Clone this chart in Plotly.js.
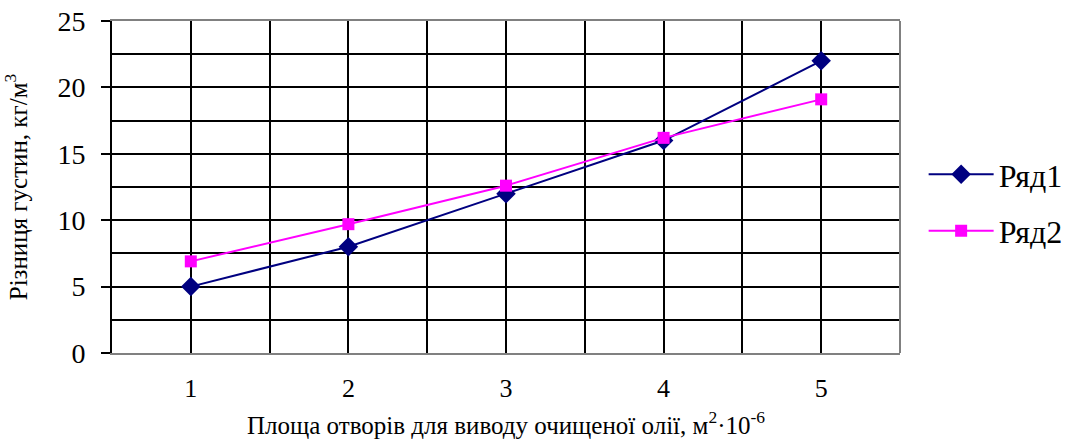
<!DOCTYPE html>
<html>
<head>
<meta charset="utf-8">
<script src="https://cdn.plot.ly/plotly-3.0.1.min.js"></script>
<style>html,body{margin:0;padding:0;background:#fff;}#chart{width:1080px;height:443px;}</style>
</head>
<body>
<div id="chart"></div>
<script>
const categories = [1, 2, 3, 4, 5];
const series1Name = "Ряд1";
const series1 = [5, 8, 12, 16, 22];
const series2Name = "Ряд2";
const series2 = [6.9, 9.7, 12.6, 16.2, 19.1];
const yTickVals = [0, 5, 10, 15, 20, 25];
const xTitle = "Площа отворів для виводу очищеної олії, м<sup>2</sup>·10<sup>-6</sup>";
const yTitle = "Різниця густин, кг/м<sup>3</sup>";

const font = "Liberation Serif";

const traces = [
  {x: categories, y: series1, name: series1Name, mode: "lines+markers", type: "scatter",
   legendgroup: "a",
   line: {color: "#000080", width: 2},
   marker: {symbol: "diamond", size: 15, color: "#000080"}},
  {x: categories, y: series2, name: series2Name, mode: "lines+markers", type: "scatter",
   legendgroup: "b",
   line: {color: "#FF00FF", width: 2},
   marker: {symbol: "square", size: 12, color: "#FF00FF"}}
];

const layout = {
  width: 1080, height: 443,
  margin: {l: 112, r: 180, t: 21, b: 90},
  paper_bgcolor: "#fff", plot_bgcolor: "#fff",
  font: {family: font, color: "#000", size: 22},
  showlegend: true,
  legend: {x: 1.03, y: 0.452, xanchor: "left", yanchor: "middle",
           font: {family: font, size: 32, color: "#000"},
           tracegroupgap: 12, traceorder: "grouped", itemwidth: 65},
  xaxis: {
    range: [0.5, 5.5], tickvals: categories, ticktext: categories.map(String),
    showgrid: true, gridcolor: "#000", gridwidth: 2,
    minor: {tickvals: [1.5, 2.5, 3.5, 4.5], showgrid: true, gridcolor: "#000", gridwidth: 2, ticks: ""},
    ticks: "", showline: true, linecolor: "#808080", linewidth: 2, mirror: true,
    zeroline: false, tickfont: {family: font, size: 26, color: "#000"},
    ticklabelstandoff: 11,
    title: {text: xTitle, font: {family: font, size: 25, color: "#000"}, standoff: 14}
  },
  yaxis: {
    range: [0, 25], tickvals: yTickVals, ticktext: yTickVals.map(String),
    showgrid: true, gridcolor: "#000", gridwidth: 2,
    minor: {tickvals: [2.5, 7.5, 12.5, 17.5, 22.5], showgrid: true, gridcolor: "#000", gridwidth: 2, ticks: ""},
    ticks: "outside", ticklen: 9, tickwidth: 2, tickcolor: "#000",
    showline: true, linecolor: "#000", linewidth: 2, mirror: false,
    zeroline: false, tickfont: {family: font, size: 28, color: "#000"},
    ticklabelstandoff: 10,
    title: {text: yTitle, font: {family: font, size: 25, color: "#000"}, standoff: 32}
  },
  shapes: [
    {type: "line", xref: "paper", yref: "paper", x0: 1, x1: 1, y0: 0, y1: 1,
     line: {color: "#808080", width: 2}}
  ]
};

Plotly.newPlot("chart", traces, layout, {staticPlot: true, displayModeBar: false});
</script>
</body>
</html>
